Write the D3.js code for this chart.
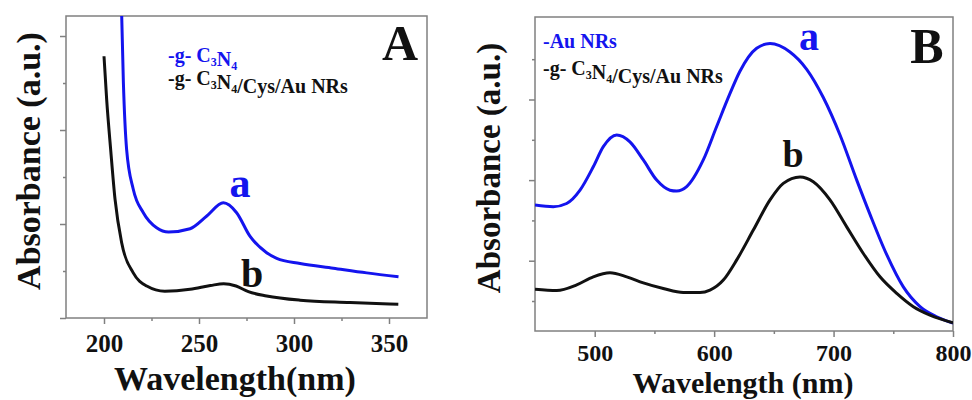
<!DOCTYPE html>
<html>
<head>
<meta charset="utf-8">
<script src="https://cdn.jsdelivr.net/npm/d3@7"></script>
<style>
  body { margin: 0; background: #fff; }
  svg { display: block; }
</style>
</head>
<body>
<div id="chart"></div>
<script>
// ── Data ───────────────────────────────────────────────────────
// Panel A: g-C3N4 (a, blue) and g-C3N4/Cys/AuNRs (b, black)
const aBlueWl  = [208.9, 210.2, 211.9, 215.4, 220.7, 227.7, 234.0, 245.3, 254.1, 262.8, 269.8, 276.8, 285.6, 290.9, 303.2, 320.7, 338.3, 355.0];
const aBlueAbs = [0.71, 0.501, 0.359, 0.274, 0.224, 0.192, 0.183, 0.190, 0.217, 0.245, 0.224, 0.174, 0.139, 0.127, 0.116, 0.106, 0.096, 0.088];
const aBlackWl  = [200.0, 201.4, 203.5, 205.8, 209.3, 215.4, 222.5, 232.0, 245.3, 256.0, 263.0, 269.5, 276.0, 285.6, 303.2, 329.5, 354.9];
const aBlackAbs = [0.557, 0.465, 0.359, 0.253, 0.160, 0.096, 0.068, 0.057, 0.061, 0.069, 0.073, 0.068, 0.056, 0.047, 0.038, 0.033, 0.029];

// Panel B: AuNRs (a, blue) and g-C3N4/Cys/AuNRs (b, black)
const bBlueWl  = [450, 465.3, 476.5, 487.7, 498.8, 507.2, 518.4, 529.5, 540.7, 551.9, 563.0, 568.6, 577.0, 590.9, 602.1, 613.3, 621.6, 635.6, 646.8, 663.5, 677.5, 691.4, 705.4, 719.4, 730.5, 744.5, 758.4, 772.4, 786.3, 800];
const bBlueAbs = [0.238, 0.234, 0.242, 0.275, 0.333, 0.383, 0.412, 0.395, 0.350, 0.300, 0.275, 0.273, 0.284, 0.350, 0.433, 0.515, 0.570, 0.627, 0.639, 0.618, 0.575, 0.505, 0.412, 0.300, 0.215, 0.115, 0.035, -0.014, -0.039, -0.055];
const bBlackWl  = [450, 468.2, 484.9, 498.8, 512.8, 526.8, 540.7, 557.4, 574.2, 588.2, 596.5, 607.7, 618.9, 632.8, 646.8, 657.9, 671.9, 683.0, 697.0, 711.0, 724.9, 738.9, 752.9, 766.8, 780.7, 800];
const bBlackAbs = [0.029, 0.026, 0.040, 0.060, 0.070, 0.060, 0.045, 0.031, 0.021, 0.021, 0.027, 0.052, 0.102, 0.176, 0.251, 0.292, 0.308, 0.296, 0.251, 0.184, 0.118, 0.060, 0.019, -0.014, -0.035, -0.054];

// ticks
const aXMajor = [200, 250, 300, 350];
const aXMinor = [225, 275, 325];
const aYMajor = [0, 0.2, 0.4, 0.6];
const aYMinor = [0.1, 0.3, 0.5];
const bXMajor = [500, 600, 700, 800];
const bXMinor = [550, 650, 750];
const bYMajor = [0.1, 0.3, 0.5];
const bYMinor = [0, 0.2, 0.4, 0.6];

const colors = {
  blue:  "#1414ee",
  black: "#111111",
  frame: "#808080",
  text:  "#111111"
};
const serif = "'Liberation Serif','Times New Roman',serif";

const svg = d3.select("#chart").append("svg")
  .attr("width", 972)
  .attr("height", 400);

function drawPanel(p) {
  const x = d3.scaleLinear().domain(p.xDomain).range([p.left, p.left + p.width]);
  const y = d3.scaleLinear().domain(p.yDomain).range([p.top + p.height, p.top]);

  const g = svg.append("g");

  // clip for curves
  const clipId = "clip-" + p.id;
  g.append("clipPath").attr("id", clipId)
    .append("rect")
    .attr("x", p.left).attr("y", p.top)
    .attr("width", p.width).attr("height", p.height);

  // ── Axes ─────────────────────────────────────────────
  const bottom = p.top + p.height;
  g.append("g")
    .attr("transform", `translate(0,${bottom})`)
    .call(d3.axisBottom(x).tickValues(p.xMinor).tickSize(3).tickFormat(""))
    .call(a => a.select(".domain").remove())
    .call(a => a.selectAll("line").attr("stroke", colors.frame).attr("stroke-width", 1.5));

  g.append("g")
    .attr("transform", `translate(0,${bottom})`)
    .call(d3.axisBottom(x).tickValues(p.xMajor).tickSize(6).tickPadding(p.tickPad).tickFormat(d3.format("d")))
    .call(a => a.select(".domain").remove())
    .call(a => a.selectAll("line").attr("stroke", colors.frame).attr("stroke-width", 1.5))
    .call(a => a.selectAll("text")
      .attr("fill", colors.text)
      .style("font-family", serif)
      .style("font-weight", "700")
      .style("font-size", p.tickFont + "px"));

  g.append("g")
    .attr("transform", `translate(${p.left},0)`)
    .call(d3.axisLeft(y).tickValues(p.yMajor).tickSize(6).tickFormat(""))
    .call(a => a.select(".domain").remove())
    .call(a => a.selectAll("line").attr("stroke", colors.frame).attr("stroke-width", 1.5));

  g.append("g")
    .attr("transform", `translate(${p.left},0)`)
    .call(d3.axisLeft(y).tickValues(p.yMinor).tickSize(3).tickFormat(""))
    .call(a => a.select(".domain").remove())
    .call(a => a.selectAll("line").attr("stroke", colors.frame).attr("stroke-width", 1.5));

  // frame
  g.append("rect")
    .attr("x", p.left).attr("y", p.top)
    .attr("width", p.width).attr("height", p.height)
    .attr("fill", "none")
    .attr("stroke", colors.frame)
    .attr("stroke-width", 1.5);

  // ── Curves ───────────────────────────────────────────
  const line = d3.line()
    .x(d => x(d[0]))
    .y(d => y(d[1]))
    .curve(d3.curveMonotoneX);

  p.series.forEach(s => {
    g.append("path")
      .datum(s.wl.map((w, i) => [w, s.abs[i]]))
      .attr("clip-path", `url(#${clipId})`)
      .attr("fill", "none")
      .attr("stroke", s.color)
      .attr("stroke-width", 3)
      .attr("stroke-linejoin", "round")
      .attr("d", line);
  });

  // ── Axis titles ──────────────────────────────────────
  g.append("text")
    .attr("x", p.xTitle[0]).attr("y", p.xTitle[1])
    .attr("text-anchor", "middle")
    .style("font-family", serif)
    .style("font-weight", "700")
    .style("font-size", p.xTitleFont + "px")
    .attr("fill", colors.text)
    .text(p.xLabel);

  g.append("text")
    .attr("transform", `translate(${p.yTitle[0]},${p.yTitle[1]}) rotate(-90)`)
    .attr("text-anchor", "middle")
    .style("font-family", serif)
    .style("font-weight", "700")
    .style("font-size", p.yTitleFont + "px")
    .attr("fill", colors.text)
    .text("Absorbance (a.u.)");

  // panel letter
  g.append("text")
    .attr("x", p.letterPos[0]).attr("y", p.letterPos[1])
    .attr("text-anchor", "middle")
    .style("font-family", serif)
    .style("font-weight", "700")
    .style("font-size", "50px")
    .attr("fill", colors.text)
    .text(p.letter);

  // curve labels a / b
  p.curveLabels.forEach(l => {
    g.append("text")
      .attr("x", l.pos[0]).attr("y", l.pos[1])
      .attr("text-anchor", "middle")
      .style("font-family", serif)
      .style("font-weight", "700")
      .style("font-size", l.size + "px")
      .attr("fill", l.color)
      .text(l.text);
  });

  // legend lines with subscripts
  p.legend.forEach(l => {
    const t = g.append("text")
      .attr("x", p.legendX).attr("y", l.y)
      .style("font-family", serif)
      .style("font-weight", "700")
      .style("font-size", "20px")
      .attr("fill", l.color);
    l.parts.forEach(part => {
      const isSub = /^[0-9]$/.test(part);
      t.append("tspan")
        .attr("dy", isSub ? 4 : 0)
        .style("font-size", isSub ? "12px" : null)
        .text(part);
      if (isSub) t.append("tspan").attr("dy", -4).text("");
    });
  });
}

const compositeParts = ["-g- C", "3", "N", "4", "/Cys/Au NRs"];

drawPanel({
  id: "a",
  left: 66, top: 16, width: 361, height: 302,
  xDomain: [180, 370], yDomain: [0, 0.6426],
  xMajor: aXMajor, xMinor: aXMinor, yMajor: aYMajor, yMinor: aYMinor,
  tickFont: 25, tickPad: 10, xTitleFont: 34, yTitleFont: 34,
  xLabel: "Wavelength(nm)", xTitle: [235, 390], yTitle: [40, 161],
  letter: "A", letterPos: [400, 60],
  series: [
    { wl: aBlueWl, abs: aBlueAbs, color: colors.blue },
    { wl: aBlackWl, abs: aBlackAbs, color: colors.black }
  ],
  curveLabels: [
    { text: "a", pos: [240, 197], size: 42, color: colors.blue },
    { text: "b", pos: [252, 287], size: 40, color: colors.black }
  ],
  legendX: 168,
  legend: [
    { y: 62, color: colors.blue, parts: ["-g- C", "3", "N", "4"] },
    { y: 85, color: colors.black, parts: compositeParts }
  ]
});

drawPanel({
  id: "b",
  left: 535, top: 17, width: 418, height: 314,
  xDomain: [450, 800], yDomain: [-0.0744, 0.7047],
  xMajor: bXMajor, xMinor: bXMinor, yMajor: bYMajor, yMinor: bYMinor,
  tickFont: 24, tickPad: 7, xTitleFont: 30, yTitleFont: 33,
  xLabel: "Wavelength (nm)", xTitle: [743, 393], yTitle: [500, 168],
  letter: "B", letterPos: [927, 63],
  series: [
    { wl: bBlueWl, abs: bBlueAbs, color: colors.blue },
    { wl: bBlackWl, abs: bBlackAbs, color: colors.black }
  ],
  curveLabels: [
    { text: "a", pos: [809, 50], size: 40, color: colors.blue },
    { text: "b", pos: [793, 167], size: 38, color: colors.black }
  ],
  legendX: 543,
  legend: [
    { y: 48, color: colors.blue, parts: ["-Au NRs"] },
    { y: 75, color: colors.black, parts: compositeParts }
  ]
});
</script>
</body>
</html>
